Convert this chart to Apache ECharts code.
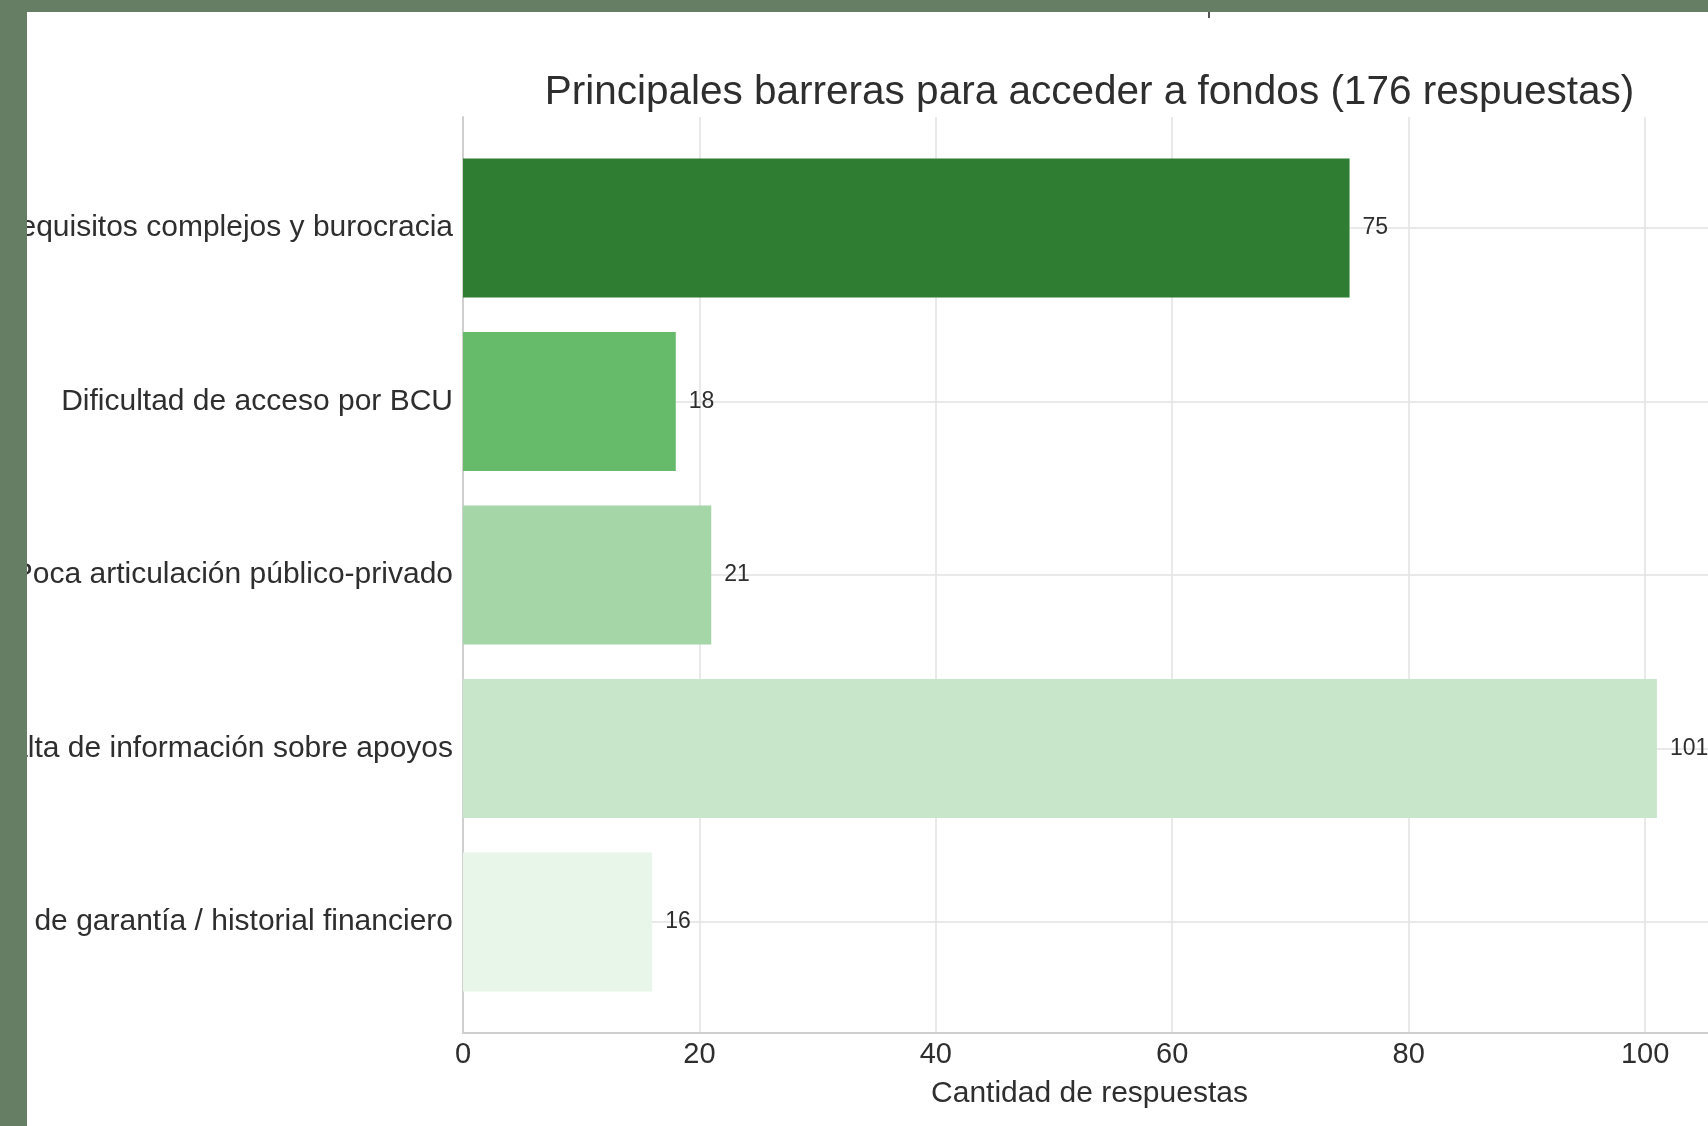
<!DOCTYPE html>
<html>
<head>
<meta charset="utf-8">
<title>Principales barreras para acceder a fondos</title>
<script src="https://cdn.jsdelivr.net/npm/echarts@6/dist/echarts.min.js"></script>
<style>
  html, body { margin: 0; padding: 0; background: #ffffff; }
  #chart { width: 1708px; height: 1126px; }
</style>
</head>
<body>
<div id="chart"></div>
<script>
// Survey answers: main barriers to accessing funds
const categories = [
  'Requisitos complejos y burocracia',
  'Dificultad de acceso por BCU',
  'Poca articulación público-privado',
  'Falta de información sobre apoyos',
  'Falta de garantía / historial financiero'
];
const values = [75, 18, 21, 101, 16];
const barColors = ['#2e7d32', '#66bb6a', '#a5d6a7', '#c8e6c9', '#e8f5e9'];
const xTickLabels = [0, 20, 40, 60, 80, 100];

const FONT = '"Liberation Sans", Arial, sans-serif';
const TEXT = '#2e2e2e';
const GRIDLINE = '#e2e2e2';
const SPINE = '#cfcfcf';
const FRAME = '#667f64';

const chart = echarts.init(document.getElementById('chart'), null, { renderer: 'canvas' });

chart.setOption({
  backgroundColor: '#ffffff',
  animation: false,
  textStyle: { fontFamily: FONT },
  title: {
    text: 'Principales barreras para acceder a fondos (176 respuestas)',
    left: 1089.5,
    top: 72,
    textAlign: 'center',
    padding: 0,
    textStyle: { fontFamily: FONT, fontSize: 40.5, fontWeight: 'normal', color: TEXT }
  },
  grid: [
    // frame: spines and vertical gridlines
    { left: 463, top: 117, width: 1253, height: 916, outerBoundsMode: 'none', containLabel: false },
    // bars
    { left: 463, top: 141.25, width: 1253, height: 867.5, outerBoundsMode: 'none', containLabel: false }
  ],
  xAxis: [
    {
      gridIndex: 0,
      type: 'value',
      min: 0,
      max: 106,
      interval: 20,
      name: 'Cantidad de respuestas',
      nameLocation: 'middle',
      nameGap: 46,
      nameTextStyle: { fontFamily: FONT, fontSize: 30, color: TEXT },
      axisLine: { show: true, lineStyle: { color: SPINE, width: 2 } },
      axisTick: { show: false },
      axisLabel: {
        fontFamily: FONT,
        fontSize: 29,
        color: TEXT,
        margin: 7,
        formatter: v => (xTickLabels.includes(v) ? String(v) : '')
      },
      splitLine: { show: true, lineStyle: { color: GRIDLINE, width: 1.5 } }
    },
    {
      gridIndex: 1,
      type: 'value',
      min: 0,
      max: 106,
      show: false
    }
  ],
  yAxis: [
    {
      gridIndex: 0,
      type: 'value',
      min: 0,
      max: 1,
      axisLine: { show: true, lineStyle: { color: SPINE, width: 2 } },
      axisTick: { show: false },
      axisLabel: { show: false },
      splitLine: { show: false }
    },
    {
      gridIndex: 1,
      type: 'category',
      inverse: true,
      data: categories,
      axisLine: { show: false },
      axisTick: { show: false },
      axisLabel: { fontFamily: FONT, fontSize: 30, color: TEXT, margin: 10, padding: [4, 0, 0, 0] },
      splitLine: { show: true, alignWithLabel: true, lineStyle: { color: GRIDLINE, width: 1.5 } }
    }
  ],
  series: [
    {
      type: 'bar',
      xAxisIndex: 1,
      yAxisIndex: 1,
      barCategoryGap: '20%',
      data: values.map((v, i) => ({ value: v, itemStyle: { color: barColors[i] } })),
      label: {
        show: true,
        position: 'right',
        distance: 13,
        fontFamily: FONT,
        fontSize: 23,
        color: TEXT,
        formatter: '{c}'
      }
    }
  ],
  graphic: [
    // surrounding page frame
    { type: 'rect', z: 100, shape: { x: 0, y: 0, width: 27, height: 1126 }, style: { fill: FRAME } },
    { type: 'rect', z: 100, shape: { x: 0, y: 0, width: 1708, height: 12 }, style: { fill: FRAME } },
    { type: 'rect', z: 100, shape: { x: 1208, y: 12, width: 2, height: 6 }, style: { fill: '#555555' } }
  ]
});
</script>
</body>
</html>
